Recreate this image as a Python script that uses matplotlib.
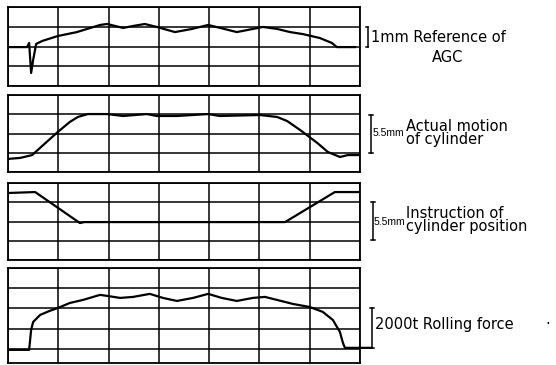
import matplotlib
matplotlib.use('Agg')
import matplotlib.pyplot as plt

# Recorder traces in grid divisions (x: 0..7, y: rows)
agc_x = [0, 0.38, 0.42, 0.46, 0.50, 0.56, 0.68, 0.99, 1.37, 1.83, 1.97, 2.29, 2.49, 2.72, 2.96,
         3.32, 3.66, 3.98, 4.22, 4.55, 4.87, 5.07, 5.35, 5.61, 5.86, 6.20, 6.44, 6.54, 6.90]
agc_y = [1.97, 1.97, 2.18, 0.66, 1.32, 2.13, 2.28, 2.53, 2.73, 3.09, 3.14, 2.94, 3.04, 3.14, 2.99,
         2.73, 2.89, 3.09, 2.94, 2.73, 2.89, 2.99, 2.89, 2.73, 2.63, 2.43, 2.18, 1.97, 1.97]

motion_x = [0, 0.24, 0.48, 0.70, 0.99, 1.23, 1.39, 1.59, 1.97, 2.29, 2.76, 2.96, 3.36, 3.98,
            4.21, 5.01, 5.35, 5.55, 5.81, 6.15, 6.36, 6.60, 6.76, 6.96]
motion_y = [0.68, 0.73, 0.88, 1.40, 2.08, 2.60, 2.86, 3.01, 3.01, 2.91, 3.01, 2.91, 2.91, 3.01,
            2.91, 2.96, 2.86, 2.65, 2.18, 1.51, 1.04, 0.78, 0.88, 0.88]

instr_x = [0, 0.54, 1.43, 1.52, 5.51, 6.50, 6.96]
instr_y = [3.48, 3.53, 1.92, 1.97, 1.97, 3.53, 3.53]

force_x = [0.04, 0.42, 0.46, 0.50, 0.64, 0.83, 0.99, 1.23, 1.49, 1.83, 1.97, 2.23, 2.49, 2.82,
           3.08, 3.36, 3.68, 3.98, 4.25, 4.55, 4.87, 5.11, 5.35, 5.67, 6.00, 6.26, 6.46, 6.60,
           6.66, 6.70, 7.22]
force_y = [-0.05, -0.05, 0.94, 1.33, 1.68, 1.88, 2.02, 2.27, 2.42, 2.67, 2.62, 2.52, 2.57, 2.72,
           2.52, 2.37, 2.52, 2.72, 2.52, 2.37, 2.52, 2.57, 2.42, 2.22, 2.07, 1.83, 1.43, 0.84,
           0.30, 0.05, 0.05]

W, H = 556, 365
fig = plt.figure(figsize=(W / 100, H / 100), dpi=100)


def panel(top, bottom, ymin, ymax):
    ax = fig.add_axes([8 / W, 1 - bottom / H, 352 / W, (bottom - top) / H])
    ax.set_xlim(0, 7)
    ax.set_ylim(ymin, ymax)
    ax.set_xticks(range(8))
    ax.set_yticks(range(int(ymin) if ymin >= 0 else 0, int(ymax) + 1))
    ax.grid(True, color='black', lw=1.1)
    ax.tick_params(length=0, labelbottom=False, labelleft=False)
    for s in ax.spines.values():
        s.set_linewidth(1.3)
    return ax


def bracket(ax, x, y0, y1, caps='both'):
    kw = dict(color='black', lw=1.1, clip_on=False)
    ax.plot([x, x], [y0, y1], **kw)
    left = 0.04
    right = 0.0 if caps == 'left' else 0.04
    for y in (y0, y1):
        ax.plot([x - left, x + right], [y, y], **kw)


ax1 = panel(7, 86, 0, 4)
ax1.plot(agc_x, agc_y, color='black', lw=1.6)
bracket(ax1, 7.15, 1.97, 3.0, caps='left')

ax2 = panel(95, 172, 0, 4)
ax2.plot(motion_x, motion_y, color='black', lw=1.6)
bracket(ax2, 7.22, 0.99, 2.96)

ax3 = panel(183, 260, 0, 4)
ax3.plot(instr_x, instr_y, color='black', lw=1.6)
bracket(ax3, 7.26, 1.04, 3.01)

ax4 = panel(268, 363, -0.7, 4)
ax4.plot(force_x, force_y, color='black', lw=1.6, clip_on=False)
bracket(ax4, 7.24, 0.05, 2.02)


def label(x, y, s, size=10.5, **kw):
    fig.text(x / W, 1 - y / H, s, va='center', ha='left', fontsize=size, **kw)


label(371, 37, '1mm Reference of')
label(432, 58, 'AGC')
label(373, 133, '5.5mm', size=7.5, family='Liberation Sans')
label(406, 133, 'Actual motion\nof cylinder', linespacing=0.85)
label(374, 222, '5.5mm', size=7.5, family='Liberation Sans')
label(406, 220, 'Instruction of\ncylinder position', linespacing=0.85)
label(375, 325, '2000t Rolling force')
label(545, 325, '·')

fig.savefig('out.png', dpi=100)
